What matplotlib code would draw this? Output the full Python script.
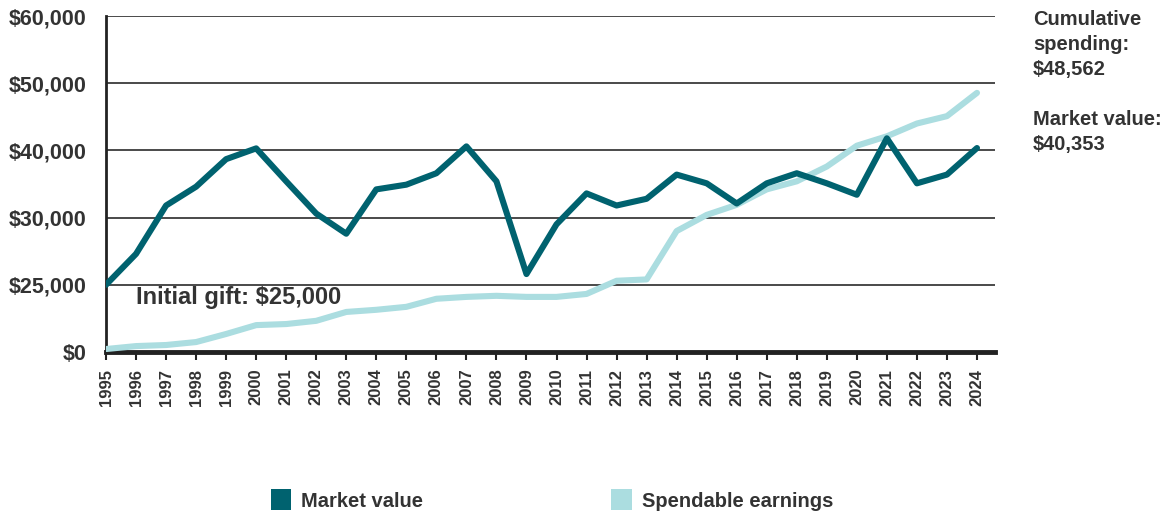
import numpy as np
import matplotlib
matplotlib.use("Agg")
import matplotlib.pyplot as plt
from matplotlib.patches import Patch

# data
years = list(range(1995, 2025))
market_value = [25000, 27300, 31800, 34600, 38700, 40300, 35400, 30600, 28800, 34200,
                34900, 36600, 40600, 35400, 25800, 29500, 33600, 31800, 32800, 36400,
                35100, 32100, 35100, 36600, 35100, 33400, 41800, 35100, 36400, 40353]
spendable = [1100, 2200, 2600, 3700, 6700, 10000, 10400, 11600, 14900, 15700,
             16800, 19800, 20500, 20900, 20500, 20500, 21600, 25300, 25400, 29000,
             30400, 31900, 34200, 35400, 37600, 40700, 42100, 44000, 45100, 48562]
y_ticks = [0, 25000, 30000, 40000, 50000, 60000]
y_labels = ["$0", "$25,000", "$30,000", "$40,000", "$50,000", "$60,000"]

dark_teal = "#00626f"
light_teal = "#abdde0"
text_col = "#333333"

plt.rcParams['font.family'] = ['Liberation Sans Narrow', 'Liberation Sans', 'DejaVu Sans']
plt.rcParams['font.weight'] = 'bold'

fig = plt.figure(figsize=(11.61, 5.15), dpi=100)
ax = fig.add_axes([106 / 1161, 1 - 352 / 515, (995 - 106) / 1161, (352 - 16) / 515])

# the original axis is evenly spaced between uneven tick values
pos = np.arange(len(y_ticks))
ax.set_yscale('function', functions=(lambda v: np.interp(v, y_ticks, pos),
                                     lambda p: np.interp(p, pos, y_ticks)))

ax.plot(years, spendable, color=light_teal, lw=4.4, solid_capstyle='round', zorder=3)
ax.plot(years, market_value, color=dark_teal, lw=4.4, solid_capstyle='round', zorder=4)

ax.set_xlim(1995, 2024.6)
ax.set_ylim(0, 60000)
ax.set_yticks(y_ticks)
ax.set_yticklabels(y_labels)
ax.set_xticks(years)
ax.set_xticklabels([str(y) for y in years], rotation=90)

for t in y_ticks[1:]:
    ax.axhline(t, color="#2b2b2b", lw=1.2, zorder=1)

for s in ['top', 'right']:
    ax.spines[s].set_visible(False)
ax.spines['left'].set_linewidth(2)
ax.spines['left'].set_color('#222222')
ax.spines['bottom'].set_linewidth(3.5)
ax.spines['bottom'].set_color('#222222')

ax.tick_params(axis='y', length=0, pad=14, labelsize=15.5, labelcolor=text_col)
ax.tick_params(axis='x', length=6, width=1.5, direction='out', color='#222222',
               pad=6, labelsize=12, labelcolor=text_col)

ax.text(1996.0, 20300, "Initial gift: $25,000", fontsize=17, color=text_col,
        ha='left', va='center')

fig.text(1033 / 1161, 1 - 10 / 515, "Cumulative\nspending:\n$48,562", fontsize=14.5,
         color=text_col, ha='left', va='top', linespacing=1.4)
fig.text(1033 / 1161, 1 - 110 / 515, "Market value:\n$40,353", fontsize=14.5,
         color=text_col, ha='left', va='top', linespacing=1.4)

handles = [Patch(facecolor=dark_teal, edgecolor='none', label="Market value"),
           Patch(facecolor=light_teal, edgecolor='none', label="Spendable earnings")]
leg = fig.legend(handles=handles, loc='center', bbox_to_anchor=(552 / 1161, 1 - 500 / 515),
                 ncol=2, frameon=False, fontsize=14.5, handlelength=1.0, handleheight=1.2,
                 handletextpad=0.5, columnspacing=9.35)
for t in leg.get_texts():
    t.set_color(text_col)

fig.savefig("out.png", dpi=100)
